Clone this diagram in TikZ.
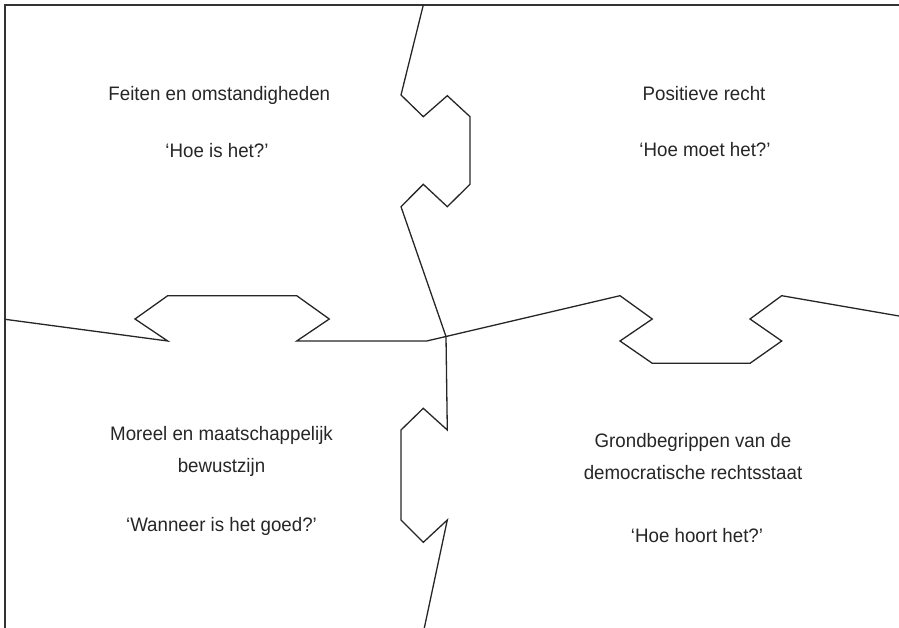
\documentclass[tikz,border=0pt]{standalone}
\usepackage{fontspec}
\setmainfont{Liberation Sans}[FakeStretch=0.96]
\begin{document}
\begin{tikzpicture}[x=1pt,y=-1pt,
  puzzle/.style={draw=black!85, line width=1.3pt, line join=miter},
  frame/.style={draw=black!80, line width=2pt},
  lbl/.style={anchor=base, inner sep=0pt, font=\fontsize{19.5}{24}\selectfont, text=black!85}]
\useasboundingbox (0,0) rectangle (899,628);
% frame
\coordinate (tr) at (899,5);
\coordinate (tl) at (5,5);
\coordinate (bl) at (5,628);
\draw[frame] (tr) -- (tl) -- (bl);
% centre
\coordinate (c) at (446,336.5);
% top seam
\coordinate (ts) at (423.3,5);
\draw[puzzle] (ts) -- (401,95) -- (423.3,116.7) -- (447.3,95.7) -- (470,116.7) -- (470,184.3)
  -- (447.3,206.7) -- (423.3,184.3) -- (401,206.7) -- (c);
% bottom seam
\coordinate (bs) at (424.3,628);
\draw[puzzle] (c) -- (447.3,430) -- (423.3,408.3) -- (401,430) -- (401,520) -- (423.3,542.3)
  -- (447.3,520) -- (bs);
% left seam
\coordinate (ls) at (5,319.3);
\draw[puzzle] (ls) -- (167.7,341) -- (135,319) -- (167.7,295.7) -- (296.7,295.7) -- (329.3,319)
  -- (296.7,341) -- (426.7,341) -- (c);
% right seam
\coordinate (rs) at (899,316);
\draw[puzzle] (c) -- (620,295.7) -- (652.3,319) -- (620,341) -- (652.3,363.3) -- (750,363.3)
  -- (781.7,341) -- (750,319) -- (781.7,295.7) -- (rs);
% labels
\node[lbl] (feiten) at (219.3,100.7) {Feiten en omstandigheden};
\node[lbl] (hoeis) at (217,157.3) {‘Hoe is het?’};
\node[lbl] (positief) at (704,100.5) {Positieve recht};
\node[lbl] (hoemoet) at (705,157) {‘Hoe moet het?’};
\node[lbl] (moreel) at (221.5,440) {Moreel en maatschappelijk};
\node[lbl] (bewust) at (221.5,472) {bewustzijn};
\node[lbl] (wanneer) at (221.5,531.7) {‘Wanneer is het goed?’};
\node[lbl] (grond) at (693,447) {Grondbegrippen van de};
\node[lbl] (democ) at (693,479) {democratische rechtsstaat};
\node[lbl] (hoehoort) at (697,542.7) {‘Hoe hoort het?’};
\end{tikzpicture}
\end{document}
